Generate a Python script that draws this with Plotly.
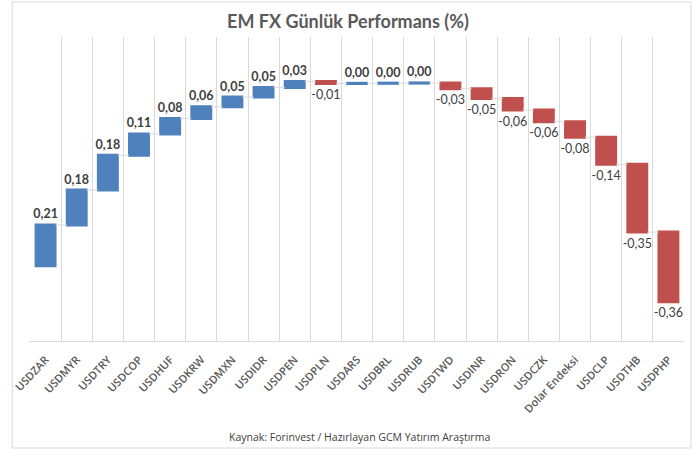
import plotly.graph_objects as go

categories = ["USDZAR", "USDMYR", "USDTRY", "USDCOP", "USDHUF", "USDKRW", "USDMXN",
              "USDIDR", "USDPEN", "USDPLN", "USDARS", "USDBRL", "USDRUB", "USDTWD",
              "USDINR", "USDRON", "USDCZK", "Dolar Endeksi", "USDCLP", "USDTHB", "USDPHP"]
values = [0.21, 0.18, 0.18, 0.11, 0.08, 0.06, 0.05, 0.05, 0.03, -0.01,
          0.001, 0.001, 0.001, -0.03, -0.05, -0.06, -0.06, -0.08, -0.14, -0.35, -0.36]

BLUE = "#4F81BD"
RED = "#C0504D"


def fmt(v):
    s = f"{v:.2f}".replace(".", ",")
    return f"<b>{s}</b>" if v >= 0 else s


labels = [fmt(v) for v in values]

fig = go.Figure(go.Waterfall(
    x=categories,
    y=values,
    measure=["relative"] * len(values),
    text=labels,
    textposition="outside",
    constraintext="none",
    textfont=dict(family="Lato", size=12.5, color="#404040"),
    increasing=dict(marker=dict(color=BLUE, line=dict(color=BLUE, width=2))),
    decreasing=dict(marker=dict(color=RED, line=dict(color=RED, width=2))),
    connector=dict(line=dict(color="#d9d9d9", width=1)),
    width=0.64,
    cliponaxis=False,
    hoverinfo="skip",
))

fig.update_layout(
    width=696, height=453,
    margin=dict(l=22, r=12, t=37, b=112),
    paper_bgcolor="white",
    plot_bgcolor="white",
    showlegend=False,
    title=dict(text="<b>EM FX Günlük Performans (%)</b>", x=0.5, xanchor="center",
               y=0.953, yanchor="middle",
               font=dict(family="Lato", size=18, color="#595959")),
    xaxis=dict(
        type="category",
        range=[-0.5, 20.5],
        tickson="boundaries",
        showgrid=True, gridcolor="#d9d9d9", gridwidth=1,
        showline=True, linecolor="#d9d9d9", linewidth=1,
        ticks="", tickangle=-47,
        ticklabelstandoff=7,
        tickfont=dict(family="Open Sans", size=11, color="#595959", weight=600),
        fixedrange=True,
    ),
    yaxis=dict(
        range=[-0.389, 1.18],
        visible=False,
        showgrid=False, zeroline=False,
        fixedrange=True,
    ),
    annotations=[dict(
        text="Kaynak: Forinvest / Hazırlayan GCM Yatırım Araştırma",
        xref="paper", yref="paper", x=0.5045, y=-0.316,
        xanchor="center", yanchor="middle", showarrow=False,
        font=dict(family="Open Sans", size=10.5, color="#404040"),
    )],
    shapes=[dict(
        type="rect", xref="paper", yref="paper",
        x0=-0.0272, x1=1.0106, y0=-0.352, y1=1.115,
        line=dict(color="#d9d9d9", width=1), fillcolor="rgba(0,0,0,0)",
        layer="above",
    )],
)

fig.write_html("out.html", config={"displayModeBar": False},
               post_script="document.body.style.margin='0';")
